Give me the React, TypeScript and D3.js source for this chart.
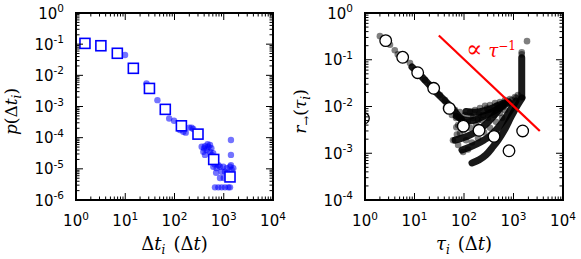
import React from 'react';
import * as d3 from 'd3';

const W = 581;
const H = 259;

// ---------- Left panel: inter-event time distribution ----------
const dtBinX = [1.52, 3.2, 6.9, 14.6, 31, 65, 138, 300, 625, 1340];
const dtBinP = [0.106, 0.089, 0.051, 0.0168, 0.0038, 8.1e-4, 2.4e-4, 1.3e-4, 2.0e-5, 5.5e-6];

const dtRaw: [number, number][] = [
  [9.9, 0.045], [27, 0.0055], [45, 1.6e-3], [78, 4.1e-4], [98, 3.5e-4], [129, 1.76e-4],
  [151, 1.55e-4], [169, 1.45e-4], [200, 2.1e-4], [223, 2.1e-4], [240, 1.9e-4],
  [356, 5.1e-5], [416, 5.3e-5], [486, 5.1e-5], [526, 5.8e-5], [385, 3.55e-5], [450, 4.0e-5],
  [416, 2.8e-5], [526, 3.55e-5], [569, 2.8e-5], [400, 4.5e-5], [470, 6.2e-5], [560, 4.6e-5],
  [610, 3.2e-5], [614, 1.17e-5], [719, 1.05e-5], [839, 1.17e-5], [978, 1.17e-5], [1148, 1.05e-5],
  [1340, 1.17e-5], [906, 8.1e-6], [1060, 8.1e-6], [1450, 9.2e-6], [1560, 1.05e-5], [650, 1.4e-5],
  [780, 1.3e-5], [700, 7.5e-6], [1200, 7.5e-6],
  [664, 2.55e-6], [776, 2.55e-6], [908, 2.55e-6], [1060, 2.55e-6], [1238, 2.55e-6], [1340, 2.55e-6],
  [839, 5.1e-6], [1000, 5.1e-6], [1300, 5.1e-6],
  [1400, 8.4e-5], [1400, 2.8e-5], [1400, 1.3e-5],
];

// ---------- Right panel: rate vs tau ----------
const tauBinX = [0.93, 2.62, 5.77, 11.6, 24.4, 50.5, 97, 201, 404, 811, 1532];
const tauBinR = [0.0056, 0.256, 0.113, 0.0528, 0.0245, 0.0091, 0.0038, 0.0031, 0.0023, 0.00113, 0.003];

const tauRaw: [number, number][] = [
  // along diagonal
  [2.0, 0.32], [2.5, 0.24], [3.2, 0.21], [4.0, 0.16], [4.6, 0.13], [6.4, 0.099], [8.1, 0.085],
  [10.2, 0.06], [12.9, 0.052], [16.3, 0.037], [20.6, 0.029], [25.9, 0.0225], [32.7, 0.0176],
  [41.3, 0.0138], [47.5, 0.0113], [52, 0.0084], [43, 0.0093], [57, 0.0066], [69, 0.0057], [70, 0.0036],
  // upper edge of cloud
  [66, 0.0084], [83, 0.0076], [105, 0.0066], [132, 0.0076], [167, 0.0084], [210, 0.0093],
  [266, 0.0103], [335, 0.0108], [423, 0.0119], [533, 0.0125], [673, 0.0138], [849, 0.0145], [1072, 0.016],
  // inside cloud
  [76, 0.004], [96, 0.0031], [120, 0.0047], [152, 0.0057], [192, 0.0051], [242, 0.0066], [305, 0.0076],
  [385, 0.0084], [486, 0.0093], [614, 0.0098], [774, 0.0113], [132, 0.0035], [175, 0.004], [231, 0.0051],
  [305, 0.0057], [404, 0.0066], [533, 0.0073], [673, 0.0084], [83, 0.0027], [110, 0.0019], [145, 0.0017],
  [192, 0.0021], [254, 0.0028], [335, 0.0035], [443, 0.0047], [586, 0.0057],
  [90, 0.0052], [140, 0.0062], [200, 0.0068], [290, 0.0092], [460, 0.0105], [620, 0.0118],
  // lower-left outliers
  [60, 0.0019], [76, 0.0015], [96, 0.00106], [120, 0.0012], [72, 0.0025],
  // near the reference line / column
  [1124, 0.0152], [933, 0.0138], [1233, 0.0176], [1875, 0.25], [1466, 0.145], [1466, 0.13],
];

const streakLow: [number, number][] = [[145, 6.2e-4], [201, 7.2e-4], [278, 9.2e-4], [368, 1.3e-3], [486, 1.9e-3], [673, 3.3e-3], [890, 5.96e-3], [1177, 0.0103], [1485, 0.0152]];
const streakMid: [number, number][] = [[91, 1.17e-3], [132, 1.36e-3], [183, 1.58e-3], [254, 1.92e-3], [335, 2.34e-3], [443, 3.14e-3], [559, 4.2e-3], [705, 5.96e-3], [890, 8.8e-3], [1124, 0.0131]];
const streakHigh: [number, number][] = [[66, 1.9e-3], [91, 2.1e-3], [120, 2.34e-3], [159, 2.7e-3], [210, 3.3e-3], [278, 4.2e-3], [368, 5.7e-3], [464, 7.6e-3], [586, 0.0103]];
const streakCloudA: [number, number][] = [[70, 0.0062], [100, 0.0052], [150, 0.005], [220, 0.0058], [320, 0.007], [450, 0.0085], [620, 0.0105], [800, 0.0125]];
const streakCloudB: [number, number][] = [[110, 0.0078], [170, 0.0075], [260, 0.0082], [380, 0.0093], [520, 0.0108], [700, 0.0122]];
const streakDiag: [number, number][] = [[8.9, 0.07], [14.2, 0.0428], [22.6, 0.0249], [36, 0.0152], [57, 9.3e-3], [83, 5.7e-3], [110, 3.8e-3]];
const streakColumn: [number, number][] = [[1466, 0.11], [1466, 0.016]];
const streaks = [streakLow, streakMid, streakHigh, streakCloudA, streakCloudB, streakDiag, streakColumn];

const refLineX = [31, 3400];
const refLineY = [0.33, 0.003];

// ---------- axes ----------
const xDomain: [number, number] = [1, 1e4];
const leftYDomain: [number, number] = [1e-6, 1];
const rightYDomain: [number, number] = [1e-4, 1];

const L = { x0: 76, x1: 273, y0: 13, y1: 200 };
const R = { x0: 365, x1: 563, y0: 13, y1: 200 };

const SANS = 'DejaVu Sans';
const SERIF = 'DejaVu Serif';

function Pow10({ x, y, exp, anchor }: { x: number; y: number; exp: number; anchor: string }) {
  return (
    <text x={x} y={y} textAnchor={anchor} fontFamily={SANS} fontSize={15} fill="#000">
      10<tspan fontSize={10.5} dy={-6.5}>{String(exp)}</tspan>
    </text>
  );
}

function Axes({ box, xs, ys, id, children }: any) {
  const majLen = 7;
  const minLen = 3.5;
  const isMajor = (v: number) => Math.abs(Math.log10(v) - Math.round(Math.log10(v))) < 1e-9;
  const xt = xs.ticks();
  const yt = ys.ticks();
  const ticks: any[] = [];
  xt.forEach((v: number, i: number) => {
    const px = xs(v);
    const len = isMajor(v) ? majLen : minLen;
    ticks.push(<line key={'xb' + i} x1={px} x2={px} y1={box.y1} y2={box.y1 - len} />);
    ticks.push(<line key={'xt' + i} x1={px} x2={px} y1={box.y0} y2={box.y0 + len} />);
  });
  yt.forEach((v: number, i: number) => {
    const py = ys(v);
    const len = isMajor(v) ? majLen : minLen;
    ticks.push(<line key={'yl' + i} x1={box.x0} x2={box.x0 + len} y1={py} y2={py} />);
    ticks.push(<line key={'yr' + i} x1={box.x1} x2={box.x1 - len} y1={py} y2={py} />);
  });
  const xLabels = xt.filter(isMajor).map((v: number) => (
    <Pow10 key={'xl' + v} x={xs(v)} y={226} exp={Math.round(Math.log10(v))} anchor="middle" />
  ));
  const yLabels = yt.filter(isMajor).map((v: number) => (
    <Pow10 key={'yl' + v} x={box.x0 - 12} y={ys(v) + 5.5} exp={Math.round(Math.log10(v))} anchor="end" />
  ));
  return (
    <g>
      <defs>
        <clipPath id={id}>
          <rect x={box.x0} y={box.y0} width={box.x1 - box.x0} height={box.y1 - box.y0} />
        </clipPath>
      </defs>
      <g clipPath={`url(#${id})`}>{children}</g>
      <g stroke="#000" strokeWidth={1}>{ticks}</g>
      <rect x={box.x0} y={box.y0} width={box.x1 - box.x0} height={box.y1 - box.y0} fill="none" stroke="#000" strokeWidth={2} />
      {xLabels}
      {yLabels}
    </g>
  );
}

export default function App() {
  const lx = d3.scaleLog().domain(xDomain).range([L.x0, L.x1]);
  const ly = d3.scaleLog().domain(leftYDomain).range([L.y1, L.y0]);
  const rx = d3.scaleLog().domain(xDomain).range([R.x0, R.x1]);
  const ry = d3.scaleLog().domain(rightYDomain).range([R.y1, R.y0]);

  const line = d3
    .line<[number, number]>()
    .x((d) => rx(d[0]))
    .y((d) => ry(d[1]))
    .curve(d3.curveCatmullRom);

  const sq = 10;

  return (
    <svg width={W} height={H} style={{ position: 'fixed', left: 0, top: 0, background: '#fff' }}>
      <rect width={W} height={H} fill="#fff" />
      <Axes box={L} xs={lx} ys={ly} id="clipL">
        {dtRaw.map((d, i) => (
          <circle key={i} cx={lx(d[0])} cy={ly(d[1])} r={3.2} fill="#0000ff" fillOpacity={0.55} />
        ))}
        {dtBinX.map((v, i) => (
          <rect key={i} x={lx(v) - sq / 2} y={ly(dtBinP[i]) - sq / 2} width={sq} height={sq} fill="#fff" stroke="#0000ff" strokeWidth={1.6} />
        ))}
      </Axes>
      <Axes box={R} xs={rx} ys={ry} id="clipR">
        {tauRaw.map((d, i) => (
          <circle key={i} cx={rx(d[0])} cy={ry(d[1])} r={3.3} fill="#000" fillOpacity={0.5} />
        ))}
        {streaks.map((s, i) => (
          <path key={i} d={line(s) || ''} fill="none" stroke="#000" strokeOpacity={0.9} strokeWidth={7} strokeLinecap="round" strokeLinejoin="round" />
        ))}
        <line x1={rx(refLineX[0])} y1={ry(refLineY[0])} x2={rx(refLineX[1])} y2={ry(refLineY[1])} stroke="#ff0000" strokeWidth={2.2} />
        {tauBinX.map((v, i) => (
          <circle key={i} cx={rx(v)} cy={ry(tauBinR[i])} r={5.8} fill="#fff" stroke="#000" strokeWidth={1.3} />
        ))}
        <text x={466} y={57} fill="#ff0000" fontFamily={SERIF} fontSize={18}>
          <tspan fontSize={24}>∝</tspan><tspan dx={6} fontStyle="italic">τ</tspan><tspan fontSize={12} dy={-7}>−1</tspan>
        </text>
      </Axes>

      {/* axis titles */}
      <text x={(L.x0 + L.x1) / 2} y={250} textAnchor="middle" fontFamily={SERIF} fontSize={18}>
        Δ<tspan fontStyle="italic">t</tspan><tspan fontStyle="italic" fontSize={12} dy={4}>i</tspan><tspan dy={-4} dx={8}>(Δ</tspan><tspan fontStyle="italic">t</tspan>)
      </text>
      <text x={(R.x0 + R.x1) / 2} y={250} textAnchor="middle" fontFamily={SERIF} fontSize={18}>
        <tspan fontStyle="italic">τ</tspan><tspan fontStyle="italic" fontSize={12} dy={4}>i</tspan><tspan dy={-4} dx={8}>(Δ</tspan><tspan fontStyle="italic">t</tspan>)
      </text>
      <text transform={`translate(17,${(L.y0 + L.y1) / 2 + 5}) rotate(-90)`} textAnchor="middle" fontFamily={SERIF} fontSize={17}>
        <tspan fontStyle="italic">p</tspan>(Δ<tspan fontStyle="italic">t</tspan><tspan fontStyle="italic" fontSize={12} dy={4}>i</tspan><tspan dy={-4}>)</tspan>
      </text>
      <text transform={`translate(306,${(R.y0 + R.y1) / 2 + 5}) rotate(-90)`} textAnchor="middle" fontFamily={SERIF} fontSize={17}>
        <tspan fontStyle="italic">r</tspan><tspan fontSize={12} dy={4}>→</tspan><tspan dy={-4}>(</tspan><tspan fontStyle="italic">τ</tspan><tspan fontStyle="italic" fontSize={12} dy={4}>i</tspan><tspan dy={-4}>)</tspan>
      </text>
    </svg>
  );
}
